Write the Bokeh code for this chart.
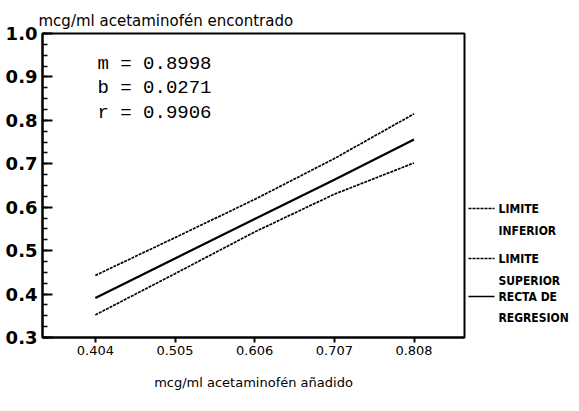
from bokeh.plotting import figure
from bokeh.models import FixedTicker, Label, Range1d
from bokeh.layouts import row
from bokeh.core.properties import value
from bokeh.embed import file_html
from bokeh.resources import INLINE
import numpy as np

# ---- data ----
x_added = [0.404, 0.505, 0.606, 0.707, 0.808]
y_regresion = [0.391, 0.482, 0.573, 0.663, 0.756]
y_superior = [0.443, 0.530, 0.618, 0.712, 0.815]
y_inferior = [0.352, 0.447, 0.543, 0.630, 0.702]
x_ticks = [0.404, 0.505, 0.606, 0.707, 0.808]
y_ticks = [0.3, 0.4, 0.5, 0.6, 0.7, 0.8, 0.9, 1.0]
stats = ["m = 0.8998", "b = 0.0271", "r = 0.9906"]
legend_labels = [("LIMITE", "INFERIOR"), ("LIMITE", "SUPERIOR"), ("RECTA DE", "REGRESION")]
title_text = "mcg/ml acetaminofén encontrado"
xlabel_text = "mcg/ml acetaminofén añadido"

X0, X1 = 0.337, 0.872
Y0, Y1 = 0.3, 1.0
FL, FT, FW, FH = 42, 33, 422, 304
H = 405

p = figure(frame_width=FW, frame_height=FH, height=H,
           x_range=Range1d(X0, X1), y_range=Range1d(Y0, Y1),
           output_backend="svg", toolbar_location=None,
           min_border_left=FL, min_border_right=2, min_border_top=FT,
           min_border_bottom=H - FT - FH)
p.grid.visible = False
p.outline_line_color = "black"
p.outline_line_width = 2
p.background_fill_color = "white"
p.border_fill_color = "white"

# title at top-left
p.title.text = title_text
p.title.align = "left"
p.title.offset = -4
p.title.standoff = 7
p.title.text_font = "DejaVu Sans"
p.title.text_font_size = "15px"
p.title.text_font_style = "normal"
p.title.text_color = "black"

# axes
p.xaxis.ticker = FixedTicker(ticks=x_ticks, minor_ticks=[])
p.yaxis.ticker = FixedTicker(ticks=y_ticks, minor_ticks=list(np.round(np.arange(0.3, 1.0001, 0.025), 3)))
for ax in (p.xaxis, p.yaxis):
    ax.axis_line_color = "black"
    ax.axis_line_width = 2
    ax.major_tick_line_color = "black"
    ax.major_tick_line_width = 2
    ax.minor_tick_line_color = "black"
    ax.minor_tick_line_width = 1.5
    ax.major_label_text_color = "black"
p.xaxis.major_tick_out = 5
p.xaxis.major_tick_in = 0
p.xaxis.minor_tick_out = 0
p.xaxis.major_label_standoff = 3
p.xaxis.major_label_text_font = "DejaVu Sans"
p.xaxis.major_label_text_font_size = "13px"
p.xaxis.major_label_overrides = {t: f"{t:.3f}" for t in x_ticks}
p.xaxis.axis_label = xlabel_text
p.xaxis.axis_label_text_font = "DejaVu Sans"
p.xaxis.axis_label_text_font_size = "13px"
p.xaxis.axis_label_text_font_style = "normal"
p.xaxis.axis_label_text_color = "black"
p.xaxis.axis_label_standoff = 17

p.yaxis.major_tick_out = 0
p.yaxis.major_tick_in = 10
p.yaxis.minor_tick_out = 0
p.yaxis.minor_tick_in = 5
p.yaxis.major_label_standoff = 5
p.yaxis.major_label_text_font = "DejaVu Sans"
p.yaxis.major_label_text_font_size = "18px"
p.yaxis.major_label_text_font_style = "bold"
p.yaxis.major_label_overrides = {t: f"{t:.1f}" for t in y_ticks}

# lines
p.line(x_added, y_superior, line_color="black", line_width=1.7, line_dash="3 1")
p.line(x_added, y_inferior, line_color="black", line_width=1.7, line_dash="3 1")
p.line(x_added, y_regresion, line_color="black", line_width=2.2)

# page pixel -> data helpers (for text placement only)
def px_x(px):
    return X0 + (px - FL) / FW * (X1 - X0)

def px_y(py):
    return Y0 + (FT + FH - py) / FH * (Y1 - Y0)

for i, s in enumerate(stats):
    p.add_layout(Label(x=px_x(97), y=px_y(63 + 24.5 * i), text=s,
                       text_font="Liberation Mono", text_font_size="19px",
                       text_baseline="middle", text_align="left", text_color="black"))

# legend panel to the right (pixel coordinates; its frame aligns with the main frame)
LX0 = FL + FW + 2
LW = 575 - LX0
leg = figure(width=LW, height=H, x_range=Range1d(LX0, LX0 + LW), y_range=Range1d(FT + FH, FT),
             output_backend="svg", toolbar_location=None,
             x_axis_location=None, y_axis_location=None,
             min_border_left=0, min_border_right=0, min_border_top=FT,
             min_border_bottom=H - FT - FH)
leg.grid.visible = False
leg.outline_line_color = None
leg.background_fill_color = "white"
leg.border_fill_color = "white"

leg_y = [(208, 230), (258, 280), (296, 317)]
dashes = ["3 1", "3 1", "solid"]
for (l1, l2), (ya, yb), d in zip(legend_labels, leg_y, dashes):
    leg.segment(x0=[468], y0=[ya], x1=[494], y1=[ya], line_color="black", line_width=1.5, line_dash=d)
    leg.text(x=[498, 498], y=[ya, yb], text=[l1, l2], text_font=value("DejaVu Sans Condensed"),
             text_font_size="12px", text_font_style="bold", text_baseline="middle",
             text_color="black")

layout = row(p, leg, spacing=0)
open("out.html", "w").write(file_html(layout, INLINE))
